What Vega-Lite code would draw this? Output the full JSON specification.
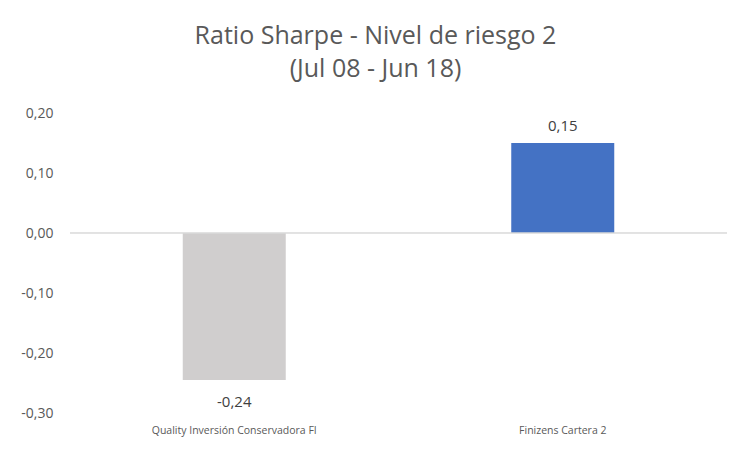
{
  "$schema": "https://vega.github.io/schema/vega-lite/v6.json",
  "autosize": {"type": "none"},
  "width": 657,
  "height": 300,
  "padding": {"left": 70, "top": 113, "right": 23, "bottom": 36},
  "background": "white",
  "config": {
    "locale": {"number": {"decimal": ",", "thousands": ".", "grouping": [3], "currency": ["", " €"], "minus": "-"}},
    "view": {"stroke": null},
    "font": "Open Sans"
  },
  "title": {
    "text": ["Ratio Sharpe - Nivel de riesgo 2", "(Jul 08 - Jun 18)"],
    "fontSize": 25,
    "fontWeight": "normal",
    "color": "#595959",
    "lineHeight": 33,
    "offset": 24,
    "anchor": "middle",
    "dx": -23,
    "font": "Open Sans"
  },
  "data": {
    "values": [
      {"fondo": "Quality Inversión Conservadora FI", "sharpe": -0.245, "tipo": "fondo"},
      {"fondo": "Finizens Cartera 2", "sharpe": 0.15, "tipo": "finizens"}
    ]
  },
  "encoding": {
    "x": {
      "field": "fondo",
      "type": "nominal",
      "sort": null,
      "scale": {"paddingInner": 0, "paddingOuter": 0},
      "axis": {
        "title": null,
        "orient": "bottom",
        "labelAngle": 0,
        "domain": false,
        "ticks": false,
        "labelFontSize": 10.5,
        "labelColor": "#595959",
        "labelPadding": 12,
        "labelFont": "Open Sans"
      }
    }
  },
  "layer": [
    {
      "mark": {"type": "bar", "size": 103},
      "encoding": {
        "y": {
          "field": "sharpe",
          "type": "quantitative",
          "scale": {"domain": [-0.3, 0.2], "nice": false},
          "axis": {
            "title": null,
            "values": [-0.3, -0.2, -0.1, 0, 0.1, 0.2],
            "format": ".2f",
            "domain": false,
            "ticks": false,
            "grid": false,
            "labelFontSize": 14,
            "labelColor": "#595959",
            "labelPadding": 17,
            "labelFont": "Open Sans"
          }
        },
        "color": {
          "field": "tipo",
          "type": "nominal",
          "scale": {"domain": ["fondo", "finizens"], "range": ["#d0cece", "#4472c4"]},
          "legend": null
        }
      }
    },
    {
      "mark": {"type": "rule", "color": "#d9d9d9", "strokeWidth": 1},
      "encoding": {"y": {"datum": 0, "type": "quantitative"}, "x": {"value": 0}, "x2": {"value": 657}}
    },
    {
      "transform": [{"filter": "datum.sharpe < 0"}],
      "mark": {"type": "text", "fontSize": 15, "color": "#404040", "font": "Open Sans", "baseline": "middle", "dy": 22},
      "encoding": {
        "y": {"field": "sharpe", "type": "quantitative"},
        "text": {"field": "sharpe", "type": "quantitative", "format": ".2f"}
      }
    },
    {
      "transform": [{"filter": "datum.sharpe >= 0"}],
      "mark": {"type": "text", "fontSize": 15, "color": "#404040", "font": "Open Sans", "baseline": "middle", "dy": -17},
      "encoding": {
        "y": {"field": "sharpe", "type": "quantitative"},
        "text": {"field": "sharpe", "type": "quantitative", "format": ".2f"}
      }
    }
  ]
}
